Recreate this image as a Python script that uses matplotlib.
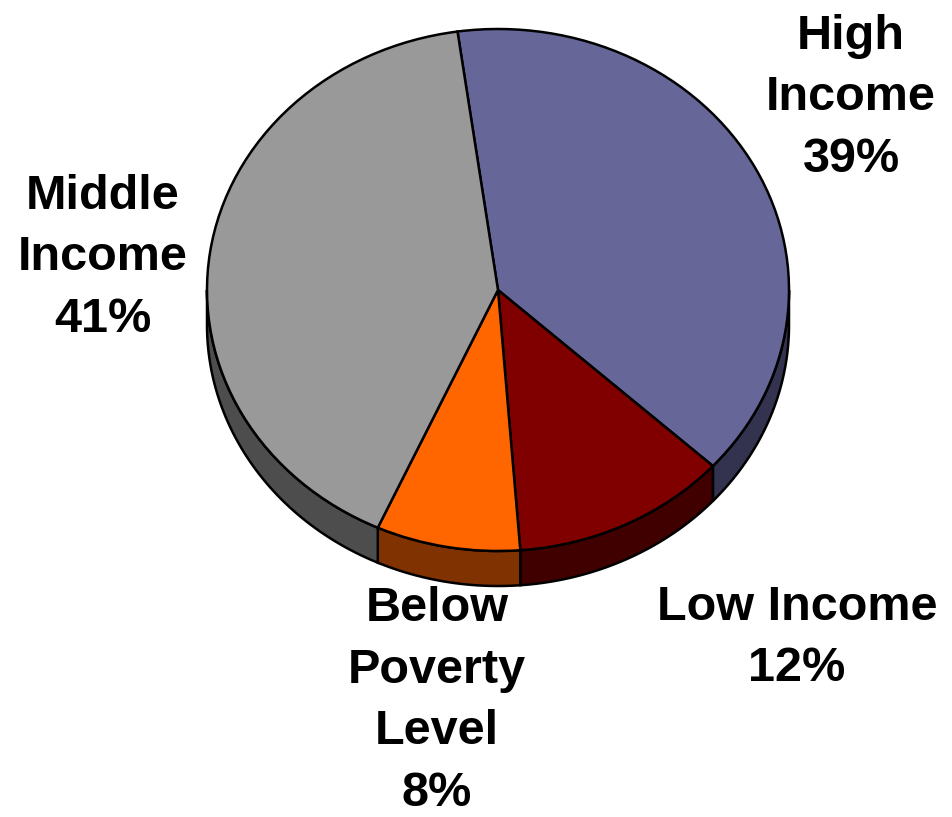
import numpy as np
import matplotlib
matplotlib.use("Agg")
import matplotlib.pyplot as plt
from matplotlib.patches import Polygon

# Data
categories = ["High\nIncome", "Low Income", "Below\nPoverty\nLevel", "Middle\nIncome"]
shares = [39, 12, 8, 41]
top_colors = ["#666699", "#800000", "#FF6600", "#999999"]
side_colors = ["#33334F", "#400000", "#803300", "#4D4D4D"]

plt.rcParams["font.family"] = ["Liberation Sans", "DejaVu Sans"]

W, H = 953, 817
fig = plt.figure(figsize=(W / 100, H / 100), dpi=100)
ax = fig.add_axes([0, 0, 1, 1])

# pie centre / radii in pixels, used to set up a squashed (elliptical) view
cx, cy, rx, ry = 498, 290, 291, 261
depth = 35 / ry

wedges, _ = ax.pie(shares, colors=top_colors, startangle=98, counterclock=False,
                   radius=1, center=(0, 0),
                   wedgeprops=dict(edgecolor="black", linewidth=1.8, zorder=3))

# side walls of the 3D pie (only the front half is visible)
for w, col in zip(wedges, side_colors):
    t1, t2 = w.theta1, w.theta2
    for k in (-360, 0, 360):
        a, b = max(t1 + k, -180), min(t2 + k, 0)
        if b <= a:
            continue
        t = np.radians(np.linspace(a, b, 200))
        top = np.column_stack([np.cos(t), np.sin(t)])
        bot = np.column_stack([np.cos(t[::-1]), np.sin(t[::-1]) - depth])
        ax.add_patch(Polygon(np.vstack([top, bot]), closed=True, facecolor=col,
                             edgecolor="black", linewidth=1.8, zorder=2))

ax.set_aspect("auto")
ax.set_xlim((0 - cx) / rx, (W - cx) / rx)
ax.set_ylim((cy - H) / ry, cy / ry)
ax.axis("off")

# labels
label_pos = [(851, 98), (797, 638), (437, 701), (103, 258)]
for name, val, (px, py) in zip(categories, shares, label_pos):
    fig.text(px / W, 1 - py / H, f"{name}\n{val}%", ha="center", va="center",
             multialignment="center", fontsize=35, fontweight="bold",
             linespacing=1.47)

fig.savefig("out.png", dpi=100)
